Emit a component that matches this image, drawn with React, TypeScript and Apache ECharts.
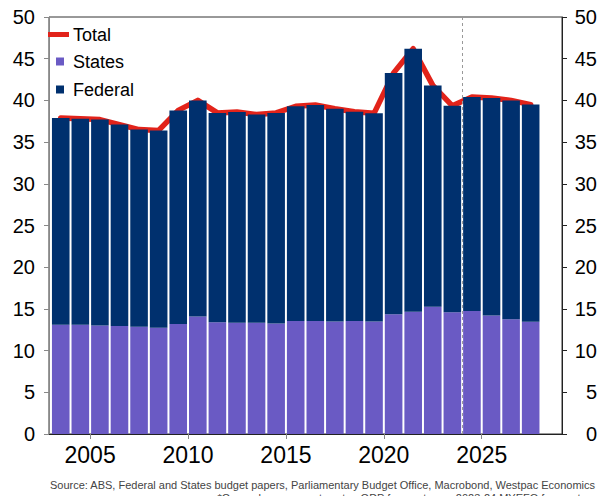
import React, { useEffect, useRef } from 'react';
import * as echarts from 'echarts';

// Fiscal years (bars are centred mid-year)
const years = [2003, 2004, 2005, 2006, 2007, 2008, 2009, 2010, 2011, 2012, 2013, 2014, 2015, 2016, 2017, 2018, 2019, 2020, 2021, 2022, 2023, 2024, 2025, 2026, 2027];
const states = [13.1, 13.1, 13.0, 12.95, 12.85, 12.75, 13.2, 14.1, 13.4, 13.35, 13.35, 13.25, 13.55, 13.55, 13.5, 13.55, 13.5, 14.35, 14.65, 15.25, 14.6, 14.75, 14.2, 13.75, 13.45];
const federal = [24.8, 24.7, 24.7, 24.15, 23.65, 23.65, 25.6, 25.9, 25.1, 25.25, 24.95, 25.25, 25.75, 25.9, 25.5, 25.1, 24.95, 28.95, 31.55, 26.55, 24.75, 25.65, 26.1, 26.25, 26.05];
const total = [37.9, 37.8, 37.7, 37.1, 36.5, 36.4, 38.8, 40.0, 38.5, 38.6, 38.3, 38.5, 39.3, 39.45, 39.0, 38.65, 38.45, 43.3, 46.2, 41.8, 39.35, 40.4, 40.3, 40.0, 39.5];
const xTicks = [2005, 2010, 2015, 2020, 2025];
const forecastStart = 2024;
const sourceLine1 = 'Source: ABS, Federal and States budget papers, Parliamentary Budget Office, Macrobond, Westpac Economics';
const sourceLine2 = '*General government sector, GDP forecast uses 2023-24 MYEFO forecasts';

const FONT = '"Liberation Sans", Arial, Helvetica, sans-serif';
const RED = '#E2231A';
const PURPLE = '#6A5AC4';
const NAVY = '#00306E';

export default function App() {
  const ref = useRef<HTMLDivElement>(null);
  useEffect(() => {
    const chart = echarts.init(ref.current!, null, { renderer: 'svg' });
    const xs = years.map((y) => y + 0.5);
    const yAxisBase = {
      type: 'value',
      min: 0,
      max: 50,
      interval: 5,
      splitLine: { show: false },
    };
    // data stored as [value, xPosition] so that the stacked dimension is the value
    const barEncode = { x: 1, y: 0 };
    chart.setOption({
      animation: false,
      grid: {
        left: 49,
        right: 47,
        top: 17,
        bottom: 62,
        show: true,
        borderColor: '#333',
        borderWidth: 1,
        containLabel: false,
        outerBoundsMode: 'none',
      },
      xAxis: {
        type: 'value',
        min: 2002.9,
        max: 2029.1,
        splitLine: { show: false },
        axisLine: { show: true, lineStyle: { color: '#222', width: 1 } },
        axisTick: { show: true, length: 5, lineStyle: { color: '#888' }, customValues: xTicks },
        axisLabel: {
          customValues: xTicks,
          fontSize: 23,
          color: '#000',
          fontFamily: FONT,
          margin: 9,
          formatter: (v: number) => String(Math.round(v)),
        },
      },
      yAxis: [
        {
          ...yAxisBase,
          position: 'left',
          axisLine: { show: true, lineStyle: { color: '#888', width: 1 } },
          axisTick: { show: true, length: 5, lineStyle: { color: '#888' } },
          axisLabel: { fontSize: 20, color: '#000', fontFamily: FONT, margin: 14 },
        },
        {
          ...yAxisBase,
          position: 'right',
          axisLine: { show: true, lineStyle: { color: '#222', width: 1 } },
          axisTick: { show: true, length: 5, lineStyle: { color: '#222' } },
          axisLabel: { fontSize: 20, color: '#000', fontFamily: FONT, margin: 35, align: 'right' },
        },
      ],
      series: [
        {
          type: 'line',
          name: 'Total',
          data: xs.map((x, i) => [x, total[i]]),
          symbol: 'none',
          showSymbol: false,
          lineStyle: { color: RED, width: 5.5, cap: 'round', join: 'round' },
          z: 1,
        },
        {
          type: 'bar',
          name: 'States',
          stack: 'tot',
          barWidth: 17.6,
          encode: barEncode,
          data: xs.map((x, i) => [states[i], x]),
          itemStyle: { color: PURPLE },
          z: 3,
        },
        {
          type: 'bar',
          name: 'Federal',
          stack: 'tot',
          barWidth: 17.6,
          encode: barEncode,
          data: xs.map((x, i) => [federal[i], x]),
          itemStyle: { color: NAVY },
          z: 3,
          markLine: {
            silent: true,
            symbol: 'none',
            label: { show: false },
            lineStyle: { color: '#999', type: [3, 3], width: 1 },
            data: [{ xAxis: forecastStart }],
            z: 5,
          },
        },
      ],
      graphic: [
        { type: 'rect', shape: { x: 48, y: 32, width: 21, height: 5 }, style: { fill: RED }, z: 10 },
        { type: 'text', x: 73, y: 34.5, style: { text: 'Total', fontSize: 18, fontFamily: FONT, fill: '#000', verticalAlign: 'middle' }, z: 10 },
        { type: 'rect', shape: { x: 56, y: 57.5, width: 8, height: 8 }, style: { fill: PURPLE }, z: 10 },
        { type: 'text', x: 73, y: 61.5, style: { text: 'States', fontSize: 18, fontFamily: FONT, fill: '#000', verticalAlign: 'middle' }, z: 10 },
        { type: 'rect', shape: { x: 56, y: 85.5, width: 8, height: 8 }, style: { fill: NAVY }, z: 10 },
        { type: 'text', x: 73, y: 89.5, style: { text: 'Federal', fontSize: 18, fontFamily: FONT, fill: '#000', verticalAlign: 'middle' }, z: 10 },
        { type: 'text', x: 595, y: 485, style: { text: sourceLine1, fontSize: 11, fontFamily: FONT, fill: '#444', align: 'right', verticalAlign: 'middle' } },
        { type: 'text', x: 586, y: 498, style: { text: sourceLine2, fontSize: 11, fontFamily: FONT, fill: '#444', align: 'right', verticalAlign: 'middle' } },
      ],
    });
    return () => chart.dispose();
  }, []);
  return (
    <div
      ref={ref}
      style={{ position: 'fixed', left: 0, top: 0, width: 609, height: 496, background: '#fff' }}
    />
  );
}
